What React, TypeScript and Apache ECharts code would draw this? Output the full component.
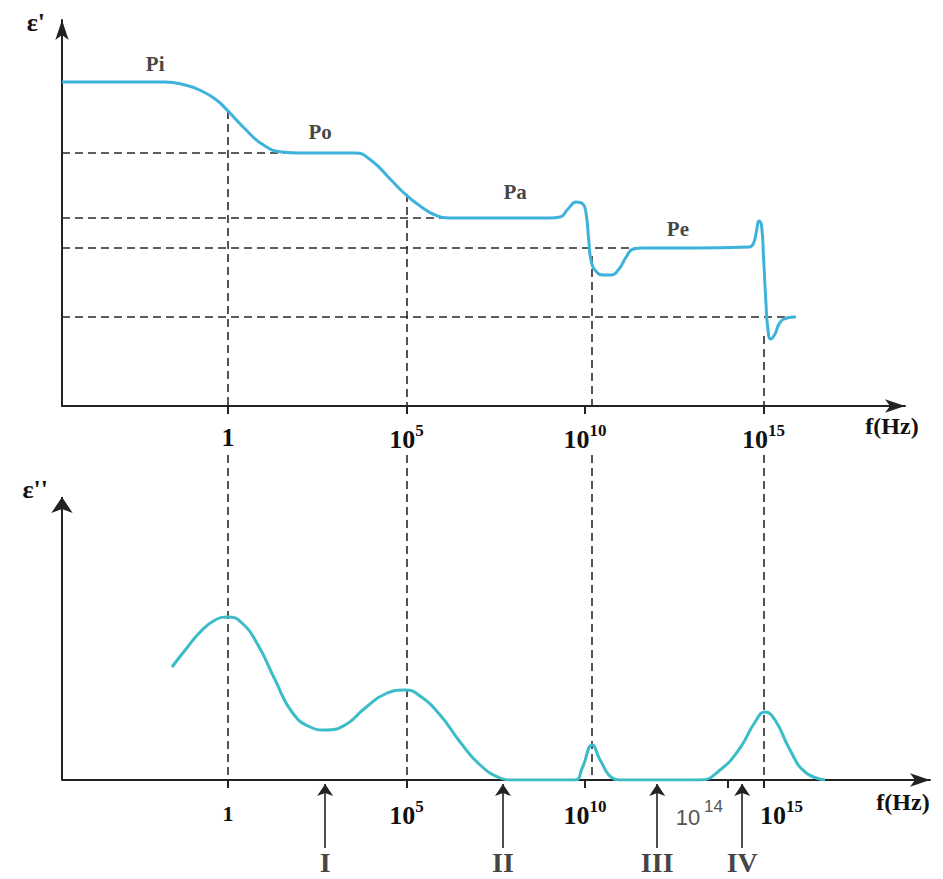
import React, { useEffect, useRef } from "react";
import * as echarts from "echarts";

const FONT = "'Liberation Serif', 'Times New Roman', serif";

// frequency axes use log10(f)
const logFMin = -4.65;
const logFMaxTop = 18.96;
const logFMaxBottom = 19.66;
const epsRealMax = 38.6;
const epsLossMax = 32.5;
const epsLossAxisTop = 28.3;

// ε' (real permittivity) curve
const realLogF = [
  -4.65, -2.5, -1.76, -1.2, -0.8, -0.36, 0, 0.48, 0.95, 1.51, 2.02, 3.0, 3.56, 4.03, 4.54, 4.96,
  5.38, 5.8, 6.22, 7.5, 9.0, 9.3, 9.52, 9.75, 9.94, 10.03, 10.1, 10.17, 10.3, 10.5, 10.73, 10.95,
  11.15, 11.35, 11.6, 13.0, 14.6, 14.72, 14.8, 14.87, 14.94, 15.0, 15.06, 15.12, 15.2, 15.32,
  15.45, 15.65, 15.88,
];
const realEps = [
  32.4, 32.4, 32.4, 32.1, 31.6, 30.7, 29.5, 27.7, 26.2, 25.4, 25.3, 25.3, 25.3, 24.5, 22.7, 21.2,
  20.0, 19.1, 18.8, 18.8, 18.8, 18.9, 19.7, 20.4, 20.2, 19.2, 16.7, 14.5, 13.5, 13.1, 13.1, 13.7,
  14.9, 15.7, 15.8, 15.8, 15.9, 16.3, 17.5, 18.5, 18.1, 14.7, 10.7, 7.7, 6.7, 7.2, 8.3, 8.8, 8.9,
];

// ε'' (loss) curve
const lossLogF = [
  -1.57, -1.2, -0.78, -0.36, 0, 0.39, 0.84, 1.32, 1.79, 2.3, 2.72, 3.28, 3.84, 4.4, 4.96, 5.38,
  5.94, 6.5, 7.06, 7.62, 7.9, 9.0, 9.72, 9.92, 10.2, 10.42, 10.76, 10.98, 12.0, 13.22, 13.78,
  14.34, 14.76, 15.04, 15.32, 15.74, 16.16, 16.72,
];
const lossEps = [
  11.3, 13.0, 14.8, 16.0, 16.3, 15.7, 13.5, 10.0, 6.8, 5.3, 5.0, 5.5, 7.2, 8.6, 9.0, 8.4, 6.5,
  3.8, 1.5, 0.2, 0, 0, 0, 1.2, 3.5, 2.0, 0.2, 0, 0, 0, 1.0, 3.2, 5.8, 6.8, 6.0, 3.0, 0.8, 0,
];

// plateau labels
const plateauLabels = ["Pi", "Po", "Pa", "Pe"];
const plateauLogF = [-2.04, 2.58, 8.04, 12.6];
const plateauEps = [34.2, 27.4, 21.4, 17.7];

// dashed horizontal levels (ε')
const levelEps = [25.3, 18.8, 15.8, 8.9];
const levelEndLogF = [1.6, 6.0, 11.4, 15.9];

// dashed relaxation verticals
const relaxLogF = [0, 5, 10.2, 15];
const relaxTopEps = [29.5, 21.2, 15.0, 7.0];

// tick values (exponents)
const topTickValues = [0, 5, 10, 15];
const bottomTickValues = [0, 5, 10, 14, 15];
// bottom tick labels: exponent shown, and where the label sits on the axis
const bottomLabelExp = [0, 5, 10, 14, 15];
const bottomLabelAt = [0, 5, 10, 13.2, 15.5];

// region arrows under the ε'' axis
const arrowLabels = ["I", "II", "III", "IV"];
const arrowLogF = [2.72, 7.7, 12.02, 14.4];

const dash = { type: [8, 5] as number[], color: "#2a2a2a", width: 1.6 };

export default function App() {
  const ref = useRef<HTMLDivElement>(null);

  useEffect(() => {
    const chart = echarts.init(ref.current!, null, { renderer: "svg" });

    const supRich = (big: number, small: number, one: number) => ({
      b: { fontSize: big, fontWeight: "bold", fontFamily: FONT, color: "#111", lineHeight: big + 4, verticalAlign: "bottom" },
      s: { fontSize: small, fontWeight: "bold", fontFamily: FONT, color: "#111", lineHeight: small, verticalAlign: "top" },
      one: { fontSize: one, fontWeight: "bold", fontFamily: FONT, color: "#111", lineHeight: big + 4 },
      g: { fontSize: 22, fontFamily: "'Liberation Sans', Arial, sans-serif", color: "#555", lineHeight: 30, verticalAlign: "bottom" },
      gs: { fontSize: 17, fontFamily: "'Liberation Sans', Arial, sans-serif", color: "#555", lineHeight: 17, verticalAlign: "top", padding: [0, 0, 0, 4] },
    });

    const topFormatter = (v: number) => (v === 0 ? "{one|1}" : `{b|10}{s|${v}}`);
    const bottomFormatter = (v: number) => {
      let idx = 0;
      let best = Infinity;
      bottomLabelAt.forEach((p, i) => {
        if (Math.abs(p - v) < best) { best = Math.abs(p - v); idx = i; }
      });
      const e = bottomLabelExp[idx];
      if (e === 0) return "{one|1}";
      if (e === 14) return `{g|10}{gs|${e}}`;
      return `{b|10}{s|${e}}`;
    };

    const axisNameStyle = { fontSize: 24, fontWeight: "bold", fontFamily: FONT, color: "#111" };

    const option: any = {
      animation: false,
      backgroundColor: "#ffffff",
      grid: [
        { left: 62, right: 38, top: 20, bottom: 473, outerBoundsMode: "none" },
        { left: 62, right: 13, top: 455, bottom: 99, outerBoundsMode: "none" },
        { left: 62, right: 13, top: 784, bottom: 31, outerBoundsMode: "none" },
      ],
      xAxis: [
        {
          type: "value", gridIndex: 0, min: logFMin, max: logFMaxTop,
          splitLine: { show: false },
          axisLine: { show: true, onZero: false, symbol: ["none", "arrow"], symbolSize: [10, 20], lineStyle: { color: "#222", width: 2 } },
          axisTick: { show: true, customValues: topTickValues, length: 8, lineStyle: { color: "#222", width: 2 } },
          axisLabel: { show: true, customValues: topTickValues, interval: 0, hideOverlap: false, margin: 16, formatter: topFormatter, rich: supRich(26, 17, 26) },
          name: "f(Hz)", nameLocation: "end", nameGap: -13,
          nameTextStyle: { ...axisNameStyle, align: "center", verticalAlign: "top", padding: [8, 0, 0, 0] },
        },
        {
          type: "value", gridIndex: 1, min: logFMin, max: logFMaxBottom,
          splitLine: { show: false },
          axisLine: { show: true, onZero: false, symbol: ["none", "arrow"], symbolSize: [10, 20], lineStyle: { color: "#222", width: 2 } },
          axisTick: { show: true, customValues: bottomTickValues, length: 8, lineStyle: { color: "#222", width: 2 } },
          axisLabel: { show: true, customValues: bottomLabelAt, interval: 0, hideOverlap: false, margin: 18, formatter: bottomFormatter, rich: supRich(26, 17, 22) },
          name: "f(Hz)", nameLocation: "end", nameGap: -27,
          nameTextStyle: { ...axisNameStyle, align: "center", verticalAlign: "top", padding: [10, 0, 0, 0] },
        },
        { type: "value", gridIndex: 2, min: logFMin, max: logFMaxBottom, show: false },
      ],
      yAxis: [
        {
          type: "value", gridIndex: 0, min: 0, max: epsRealMax,
          splitLine: { show: false }, axisTick: { show: false }, axisLabel: { show: false },
          axisLine: { show: true, onZero: false, symbol: ["none", "arrow"], symbolSize: [10, 20], lineStyle: { color: "#222", width: 2 } },
          name: "ε'", nameLocation: "end", nameGap: -2,
          nameTextStyle: { ...axisNameStyle, fontSize: 26, align: "right", verticalAlign: "middle", padding: [0, 17, 0, 0] },
        },
        {
          type: "value", gridIndex: 1, min: 0, max: epsLossMax,
          splitLine: { show: false }, axisTick: { show: false }, axisLabel: { show: false },
          axisLine: { show: false, onZero: false },
          name: "ε''", nameLocation: "end", nameGap: -34,
          nameTextStyle: { ...axisNameStyle, fontSize: 26, align: "right", verticalAlign: "middle", padding: [0, 14, 0, 0] },
        },
        { type: "value", gridIndex: 2, min: 0, max: 1, show: false },
      ],
      series: [
        {
          type: "line", xAxisIndex: 0, yAxisIndex: 0,
          data: realLogF.map((x, i) => [x, realEps[i]]),
          showSymbol: false, smooth: 0.5,
          lineStyle: { color: "#3db3dc", width: 3 },
          z: 5,
          markLine: {
            silent: true, symbol: ["none", "none"], label: { show: false }, lineStyle: dash,
            data: [
              ...levelEps.map((e, i) => [{ coord: [logFMin, e] }, { coord: [levelEndLogF[i], e] }]),
              ...relaxLogF.map((x, i) => [{ coord: [x, relaxTopEps[i]] }, { coord: [x, 0] }]),
            ],
          },
        },
        {
          type: "scatter", xAxisIndex: 0, yAxisIndex: 0,
          data: plateauLabels.map((n, i) => ({ name: n, value: [plateauLogF[i], plateauEps[i]] })),
          symbolSize: 1, itemStyle: { color: "rgba(0,0,0,0)" },
          label: { show: true, position: "inside", formatter: "{b}", fontSize: 21, fontWeight: "bold", fontFamily: FONT, color: "#111" },
          silent: true,
        },
        {
          type: "line", xAxisIndex: 1, yAxisIndex: 1,
          data: lossLogF.map((x, i) => [x, lossEps[i]]),
          showSymbol: false, smooth: 0.5,
          lineStyle: { color: "#3bbcc6", width: 3 },
          z: 5,
          markLine: {
            silent: true, symbol: ["none", "none"], label: { show: false }, lineStyle: dash,
            data: [
              ...relaxLogF.map((x) => [{ coord: [x, epsLossMax] }, { coord: [x, 0] }]),
              [
                { coord: [logFMin, 0], symbol: "none", lineStyle: { type: "solid", color: "#222", width: 2 } },
                { coord: [logFMin, epsLossAxisTop], symbol: "arrow", symbolSize: 16 },
              ],
            ],
          },
        },
        {
          type: "scatter", xAxisIndex: 2, yAxisIndex: 2,
          data: arrowLabels.map((n, i) => ({ name: n, value: [arrowLogF[i], 0] })),
          symbolSize: 1, itemStyle: { color: "rgba(0,0,0,0)" },
          label: { show: true, position: "bottom", distance: 0, formatter: "{b}", fontSize: 28, fontWeight: "bold", fontFamily: FONT, color: "#111" },
          silent: true,
          markLine: {
            silent: true, symbol: ["none", "arrow"], symbolSize: 12, label: { show: false },
            lineStyle: { type: "solid", color: "#222", width: 1.6 },
            data: arrowLogF.map((x) => [{ coord: [x, 0] }, { coord: [x, 1] }]),
          },
        },
      ],
    };

    chart.setOption(option);
    return () => chart.dispose();
  }, []);

  return (
    <div
      ref={ref}
      style={{ position: "fixed", left: 0, top: 0, width: 943, height: 879, background: "#fff" }}
    />
  );
}
